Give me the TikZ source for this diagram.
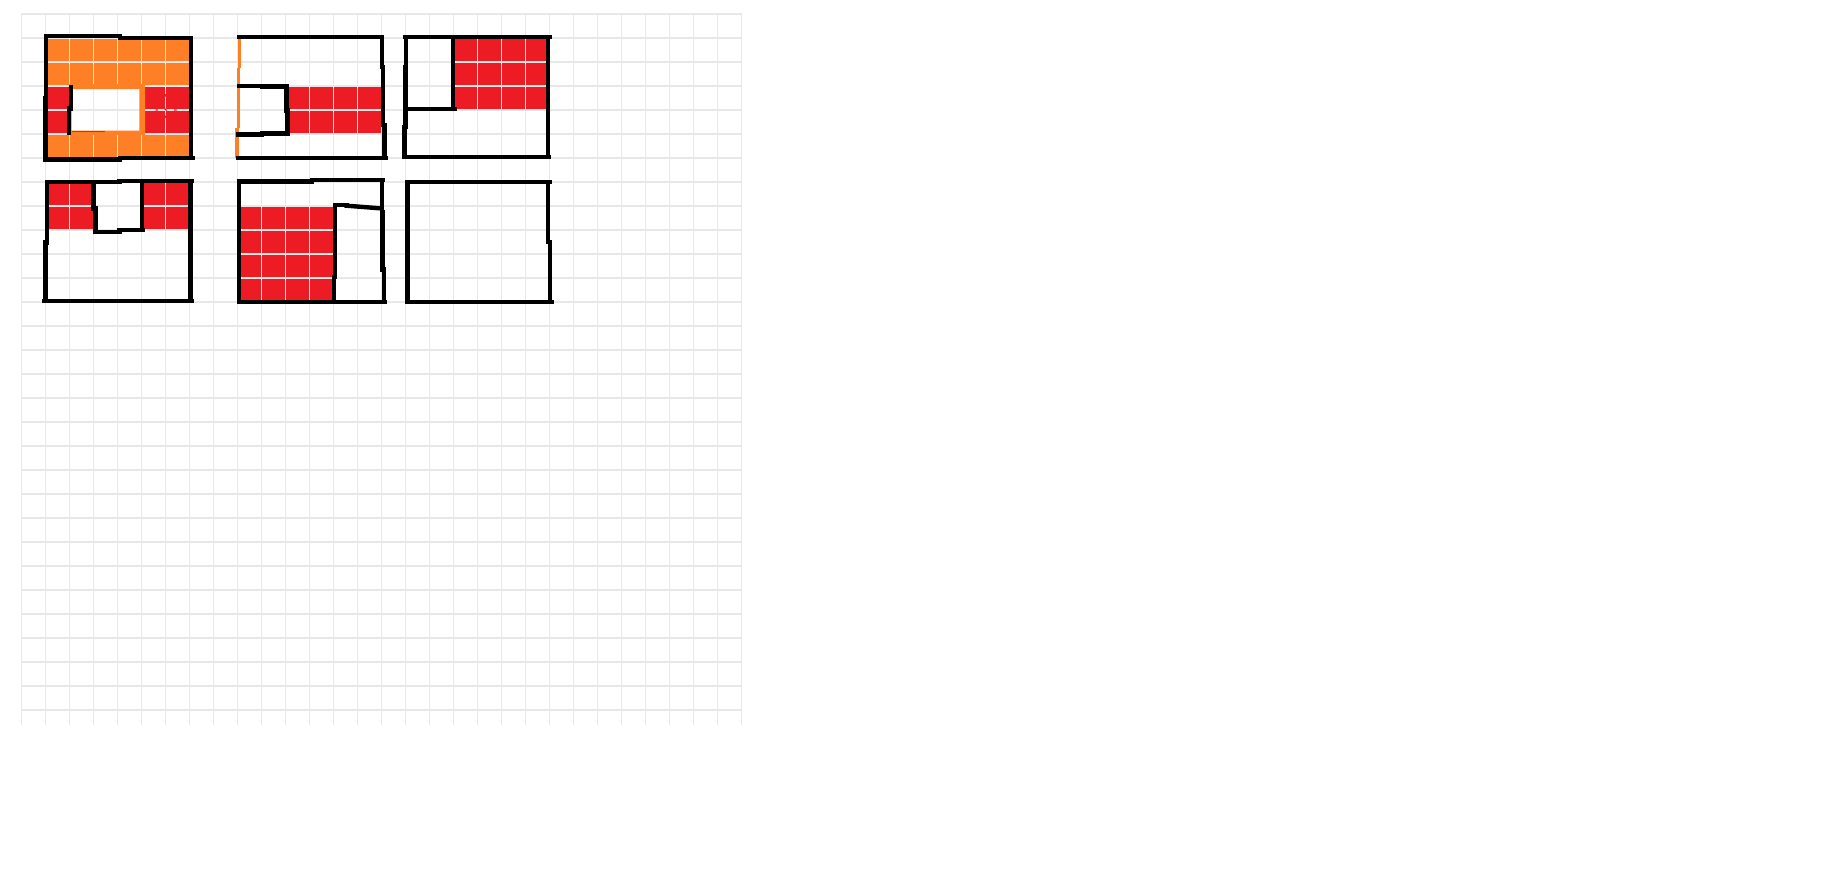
\documentclass[tikz,border=0pt]{standalone}
\definecolor{paintorange}{RGB}{255,127,39}
\definecolor{paintred}{RGB}{237,28,36}
\definecolor{gridgray}{RGB}{232,232,232}
\begin{document}
\begin{tikzpicture}[x=1pt,y=-1pt,
  gridline/.style={draw=gridgray,line width=1.4pt},
  ink/.style={draw=black,line width=4.4pt,line cap=rect},
  orangeink/.style={draw=paintorange,line width=3.2pt},
  redcell/.style={fill=paintred},
  orangecell/.style={fill=paintorange},
  holecell/.style={fill=white}]
\fill[white] (0,0) rectangle (1846,871);
\useasboundingbox (0,0) rectangle (1846,871);

% ---- fills (under the grid) ----
\path[orangecell] (45.7,38) rectangle (189.7,158);
\path[redcell] (45.7,86) rectangle (69.7,134);
\path[redcell] (141.7,86) rectangle (189.7,134);
\path[holecell] (69.7,86) rectangle (141.7,134);
\path[redcell] (285.7,86) rectangle (381.7,134);
\path[redcell] (453.7,38) rectangle (549.7,110);
\path[redcell] (45.7,182) rectangle (93.7,230);
\path[redcell] (141.7,182) rectangle (189.7,230);
\path[redcell] (237.7,206) rectangle (333.7,302);

% ---- grid ----
\foreach \i in {0,...,30} \draw[gridline] ({21.7+24*\i},13) -- ({21.7+24*\i},725);
\foreach \j in {0,...,29} \draw[gridline] (21.7,{14+24*\j}) -- (742,{14+24*\j});

% ---- strokes over the grid ----
\fill[paintorange,even odd rule] (69,84) rectangle (145,135) (71.7,89) rectangle (139.3,130.7);
\draw[paintred,line width=1pt] (71.7,131.2) -- (105,131.2);
\draw[paintred,line width=1.3pt] (165.7,94) -- (165.7,96.5) (165.7,115.5) -- (165.7,118)
  (155.5,110) -- (158,110) (174,110) -- (176.5,110) (164.5,108.5) -- (166.5,110.5);

\draw[orangeink] (239.7,36.7) -- (239.7,68.3);
\draw[orangeink] (238.5,68.3) -- (238.5,128.3);
\draw[orangeink] (237,128.3) -- (237,158.3);

% box 1
\draw[ink] (46.2,36.2) -- (120,36.2);
\draw[ink] (120,37.7) -- (191.2,37.7);
\draw[ink] (191.2,37.7) -- (191.2,158);
\draw[ink] (45.3,159.5) -- (120,159.5);
\draw[ink] (120,158) -- (192.3,158);
\draw[ink] (46.2,36.2) -- (46.2,98);
\draw[ink] (45.3,98) -- (45.3,159.5);
\draw[ink] (70.7,87) -- (70.7,108.3);
\draw[ink] (69,108.3) -- (69,133);

% box 2
\draw[ink] (239.3,37.2) -- (382.2,37.2);
\draw[ink] (382.2,37.2) -- (382.2,66.7);
\draw[ink] (383,66.7) -- (383,125);
\draw[ink] (384.5,125) -- (384.5,157.7);
\draw[ink] (237.7,157.7) -- (385.7,157.7);
\draw[ink] (239.3,85.7) -- (261.7,85.7);
\draw[ink] (261.7,86.3) -- (286.3,86.3);
\draw[ink] (286.3,86.3) -- (286.3,111);
\draw[ink] (287.5,110) -- (287.5,133.3);
\draw[ink] (287.5,133.3) -- (261.7,133.3);
\draw[ink] (261.7,134.3) -- (238.3,134.3);

% box 3
\draw[ink] (405.3,36.8) -- (549.5,36.8);
\draw[ink] (406,36.8) -- (406,66.7);
\draw[ink] (405.3,66.7) -- (405.3,126.7);
\draw[ink] (404.5,126.7) -- (404.5,156.8);
\draw[ink] (548.2,36.8) -- (548.2,156.8);
\draw[ink] (404.5,156.8) -- (549,156.8);
\draw[ink] (453.2,36.8) -- (453.2,108.8);
\draw[ink] (406,108.8) -- (455,108.8);

% box 5 (bottom left)
\draw[ink] (46.7,182.2) -- (119.3,182.2);
\draw[ink] (119.3,181.2) -- (191.5,181.2);
\draw[ink] (46.7,182.2) -- (46.7,242.3);
\draw[ink] (45.5,242.3) -- (45.5,301.2);
\draw[ink] (190.5,181.2) -- (190.5,301.2);
\draw[ink] (44.5,301.2) -- (191.5,301.2);
\draw[ink] (93.3,183.5) -- (93.3,208.3);
\draw[ink] (95.5,208.3) -- (95.5,231.7);
\draw[ink] (95.5,231.7) -- (119.3,231.7);
\draw[ink] (119.3,229.7) -- (142.7,229.7);
\draw[ink] (141.7,181.2) -- (141.7,229.7);

% box 4 (bottom middle)
\draw[ink] (239,181.5) -- (311.7,181.5);
\draw[ink] (311.7,179.8) -- (382.3,179.8);
\draw[ink] (239,181.5) -- (239,302.2);
\draw[ink] (381.7,179.8) -- (381.7,212.3);
\draw[ink] (382.3,212.3) -- (382.3,269.3);
\draw[ink] (383.8,269.3) -- (383.8,302.2);
\draw[ink] (239,302.2) -- (384.8,302.2);
\draw[ink] (333.8,276.7) -- (333.8,301.7);
\draw[ink] (335,205) -- (335,276.7);
\draw[ink] (335,204.8) -- (346.7,204.8);
\draw[ink] (346.7,205.7) -- (380,208.3);

% box 6 (bottom right)
\draw[ink] (407.5,182.2) -- (549.5,182.2);
\draw[ink] (407.5,182.2) -- (407.5,302.2);
\draw[ink] (548.2,182.2) -- (548.2,241.7);
\draw[ink] (549.7,241.7) -- (549.7,302.2);
\draw[ink] (407.5,302.2) -- (551.5,302.2);
\end{tikzpicture}
\end{document}
